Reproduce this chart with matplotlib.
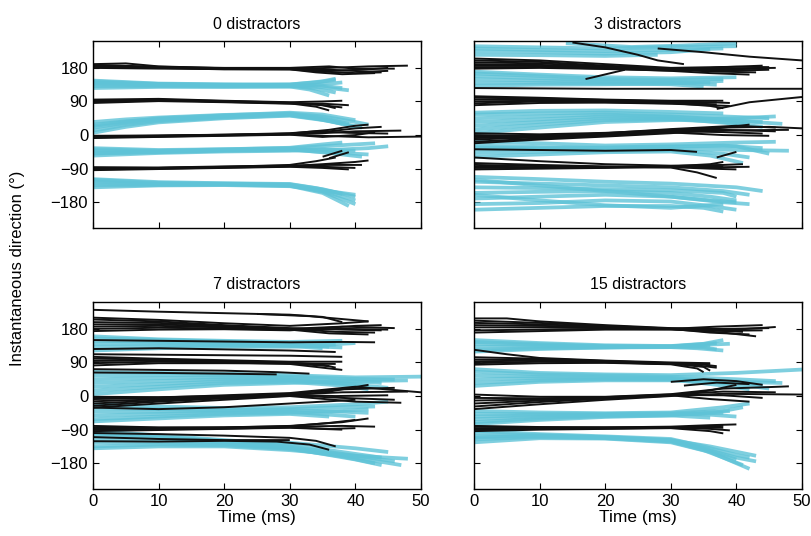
import matplotlib
matplotlib.use('Agg')
import matplotlib.pyplot as plt

plt.rcParams.update({
    'font.family': ['Liberation Sans', 'DejaVu Sans'],
    'font.size': 12,
    'axes.linewidth': 1.0,
})

titles = ["0 distractors", "3 distractors", "7 distractors", "15 distractors"]
x_ticks = [0, 10, 20, 30, 40, 50]
y_ticks = [-180, -90, 0, 90, 180]

# each trace: list of (time ms, direction deg)

# ---- 0 distractors
p0_cyan = [
    [(0, 146), (5, 142), (10, 138), (20, 136), (30, 136), (34, 141), (37, 148)],
    [(0, 141), (10, 136), (20, 134), (30, 134), (34, 134), (38, 126)],
    [(0, 136), (10, 133), (20, 132), (30, 132), (34, 124), (37, 114)],
    [(0, 131), (10, 131), (20, 130), (30, 130), (33, 122), (36, 106)],
    [(0, 126), (10, 129), (20, 129), (30, 130), (35, 136), (38, 141)],
    [(0, 144), (10, 137), (20, 135), (30, 133), (35, 128), (39, 120)],
    [(0, 139), (10, 135), (20, 133), (30, 135), (35, 144), (37, 151)],
    [(0, 35), (5, 42), (10, 47), (20, 54), (30, 58), (35, 50), (40, 35), (42, 28)],
    [(0, 28), (5, 37), (10, 43), (20, 51), (30, 56), (35, 46), (39, 30)],
    [(0, 20), (5, 32), (10, 40), (20, 49), (30, 55), (35, 42), (40, 22)],
    [(0, 12), (5, 27), (10, 37), (20, 47), (30, 53), (34, 44), (38, 30)],
    [(0, 6), (5, 22), (10, 34), (20, 45), (30, 52), (36, 38), (41, 20)],
    [(0, 24), (5, 35), (10, 45), (20, 53), (30, 60), (35, 55), (40, 40)],
    [(0, -35), (10, -40), (20, -38), (30, -35), (35, -30), (40, -25), (43, -22)],
    [(0, -42), (10, -44), (20, -40), (30, -38), (36, -40), (42, -35), (45, -30)],
    [(0, -48), (10, -46), (20, -42), (30, -40), (35, -45), (40, -50), (42, -52)],
    [(0, -55), (10, -48), (20, -44), (30, -42), (35, -38), (40, -42)],
    [(0, -38), (10, -42), (20, -38), (30, -34), (35, -25), (38, -20)],
    [(0, -50), (10, -45), (20, -41), (30, -38), (36, -48), (41, -58)],
    [(0, -120), (10, -128), (20, -130), (30, -132), (35, -145), (40, -165)],
    [(0, -125), (10, -130), (20, -131), (30, -134), (35, -150), (40, -175)],
    [(0, -130), (10, -132), (20, -132), (30, -135), (35, -152), (40, -185)],
    [(0, -135), (10, -134), (20, -133), (30, -136), (35, -155), (39, -190)],
    [(0, -140), (10, -135), (20, -134), (30, -137), (35, -148), (40, -160)],
    [(0, -118), (10, -126), (20, -129), (30, -131), (34, -142), (38, -158)],
]
p0_black = [
    [(0, 190), (5, 192), (10, 184), (20, 179), (30, 178), (36, 175), (42, 170), (45, 172)],
    [(0, 186), (10, 182), (20, 178), (30, 177), (36, 180), (42, 184), (48, 186)],
    [(0, 182), (10, 180), (20, 176), (30, 176), (35, 170), (40, 166), (44, 168)],
    [(0, 188), (10, 183), (20, 180), (30, 180), (36, 184), (40, 178), (46, 178)],
    [(0, 184), (10, 181), (20, 177), (30, 179), (36, 172), (42, 176), (45, 180)],
    [(0, 180), (10, 178), (20, 177), (30, 176), (34, 168), (38, 163), (43, 166)],
    [(0, 92), (10, 95), (20, 91), (30, 87), (34, 82), (38, 74)],
    [(0, 88), (10, 93), (20, 90), (30, 86), (35, 80), (37, 72)],
    [(0, 95), (10, 97), (20, 92), (30, 88), (35, 90), (38, 92)],
    [(0, 90), (10, 94), (20, 89), (30, 85), (34, 76), (36, 66)],
    [(0, 86), (10, 91), (20, 88), (30, 84), (35, 84), (39, 80)],
    [(0, -5), (10, -3), (20, 0), (30, 2), (35, 8), (40, 18), (44, 22)],
    [(0, -2), (10, -1), (20, 1), (30, 3), (35, 5), (40, 10), (47, 12)],
    [(0, -8), (10, -5), (20, -2), (30, 1), (35, -5), (40, 0), (43, 8)],
    [(0, -4), (10, -2), (20, 0), (30, 4), (36, 14), (40, 25), (42, 28)],
    [(0, -6), (10, -4), (20, -1), (30, 2), (35, -2), (42, -6), (50, -4)],
    [(0, -3), (10, -2), (20, 1), (30, 5), (34, 10), (39, 6), (45, 4)],
    [(35, -58), (38, -42)],
    [(36, -62), (39, -46)],
    [(0, -88), (10, -88), (20, -86), (30, -83), (35, -78), (40, -72), (42, -68)],
    [(0, -92), (10, -90), (20, -87), (30, -84), (35, -85), (40, -88)],
    [(0, -90), (10, -88), (20, -85), (30, -80), (34, -70), (37, -60)],
    [(0, -86), (10, -87), (20, -84), (30, -82), (36, -80), (41, -80)],
    [(0, -94), (10, -91), (20, -88), (30, -85), (35, -88), (39, -92)],
]

# ---- 3 distractors
p1_cyan = [
    [(0, 232), (10, 228), (20, 225), (30, 228), (38, 232)],
    [(0, 225), (10, 222), (20, 218), (30, 222), (36, 230)],
    [(0, 215), (10, 214), (20, 212), (28, 215)],
    [(0, 238), (10, 235), (20, 232), (30, 236), (40, 238)],
    [(14, 246), (24, 236), (32, 240), (40, 246)],
    [(0, 165), (10, 158), (20, 150), (30, 148), (38, 150)],
    [(0, 158), (10, 152), (20, 146), (30, 144), (36, 140)],
    [(0, 150), (10, 146), (20, 142), (30, 140), (37, 135)],
    [(0, 140), (10, 140), (20, 138), (30, 136), (35, 130)],
    [(0, 132), (10, 135), (20, 136), (30, 138), (38, 145)],
    [(0, 170), (10, 162), (20, 155), (30, 152), (40, 155)],
    [(0, 55), (10, 58), (20, 60), (30, 55), (38, 50), (45, 45)],
    [(0, 45), (10, 50), (20, 55), (30, 50), (38, 42), (44, 35)],
    [(0, 35), (10, 42), (20, 50), (30, 48), (40, 38), (47, 30)],
    [(0, 25), (10, 35), (20, 45), (30, 45), (40, 30), (44, 22)],
    [(0, 15), (10, 28), (20, 40), (30, 42), (38, 35), (42, 28)],
    [(0, 5), (10, 20), (20, 35), (30, 40), (40, 45), (46, 50)],
    [(0, 60), (10, 65), (20, 66), (30, 62), (38, 58)],
    [(0, -18), (10, -22), (20, -28), (30, -25), (40, -20), (46, -18)],
    [(0, -28), (10, -32), (20, -35), (30, -32), (38, -28), (44, -35)],
    [(0, -38), (10, -38), (20, -38), (30, -36), (40, -40), (48, -42)],
    [(0, -48), (10, -45), (20, -42), (30, -40), (38, -50), (42, -60)],
    [(0, -58), (10, -52), (20, -46), (30, -44), (36, -55), (41, -75)],
    [(0, -33), (10, -35), (20, -33), (30, -30), (40, -30), (45, -50)],
    [(0, -112), (10, -118), (20, -125), (30, -130), (40, -140), (44, -150)],
    [(0, -125), (10, -130), (20, -135), (30, -140), (38, -150), (42, -160)],
    [(0, -140), (10, -142), (20, -145), (30, -148), (38, -155), (40, -165)],
    [(0, -155), (10, -152), (20, -150), (30, -155), (36, -165), (40, -175)],
    [(0, -170), (10, -165), (20, -160), (30, -165), (38, -180), (42, -185)],
    [(0, -185), (10, -182), (20, -175), (30, -178), (36, -190), (40, -200)],
    [(0, -200), (10, -195), (20, -190), (30, -190), (35, -195), (38, -205)],
    [(0, -160), (10, -175), (20, -188), (30, -195), (38, -185)],
    [(0, -120), (10, -135), (20, -150), (30, -165), (36, -175), (40, -180)],
]
p1_black = [
    [(0, 200), (10, 196), (20, 186), (30, 178), (38, 176), (44, 178)],
    [(0, 195), (10, 192), (20, 184), (30, 176), (38, 172), (45, 175)],
    [(0, 190), (10, 188), (20, 182), (30, 175), (37, 170), (43, 168)],
    [(0, 186), (10, 185), (20, 180), (30, 174), (38, 178), (46, 180)],
    [(0, 182), (10, 182), (20, 178), (30, 172), (36, 166), (42, 162)],
    [(0, 178), (10, 180), (20, 177), (30, 173), (38, 182), (44, 186)],
    [(0, 205), (10, 200), (20, 190), (30, 180), (40, 183), (45, 182)],
    [(15, 248), (20, 235), (25, 215), (28, 200), (32, 190)],
    [(28, 232), (35, 222), (42, 210), (50, 200)],
    [(17, 150), (23, 175)],
    [(0, 126), (20, 124), (40, 124), (50, 124)],
    [(37, 70), (42, 88), (50, 102)],
    [(0, 100), (10, 98), (20, 94), (30, 90), (36, 88), (39, 86)],
    [(0, 95), (10, 95), (20, 92), (30, 88), (37, 82)],
    [(0, 90), (10, 92), (20, 90), (30, 86), (36, 78), (38, 72)],
    [(0, 85), (10, 90), (20, 88), (30, 85), (37, 88)],
    [(0, 80), (10, 86), (20, 87), (30, 84), (36, 80), (39, 78)],
    [(0, 104), (10, 100), (20, 95), (30, 92), (38, 92)],
    [(0, 5), (10, 2), (20, 6), (30, 14), (38, 20), (45, 22), (50, 18)],
    [(0, 0), (10, -2), (20, 4), (30, 12), (38, 14), (46, 10)],
    [(0, -8), (10, -5), (20, 2), (30, 10), (38, 8), (44, 4)],
    [(0, -12), (10, -6), (20, 0), (30, 9), (37, 18), (42, 28)],
    [(0, -18), (10, -9), (20, -2), (30, 7), (38, 0), (45, -2)],
    [(0, -22), (10, -12), (20, -4), (30, 5), (36, 12), (48, 14)],
    [(0, -4), (10, -3), (20, 5), (30, 16), (40, 25), (46, 20)],
    [(0, -38), (10, -40), (20, -42), (30, -40), (34, -45)],
    [(37, -60), (40, -45)],
    [(0, -60), (10, -70), (20, -78), (30, -82), (38, -80), (41, -78)],
    [(0, -75), (10, -80), (20, -84), (30, -85), (38, -86), (42, -85)],
    [(0, -85), (10, -86), (20, -87), (30, -86), (36, -90), (40, -92)],
    [(0, -92), (10, -90), (20, -88), (30, -84), (36, -78), (38, -72)],
    [(0, -80), (10, -83), (20, -85), (30, -87), (34, -100), (37, -115)],
    [(0, -88), (10, -88), (20, -86), (30, -83), (38, -84)],
]

# ---- 7 distractors
p2_cyan = [
    [(0, 155), (10, 150), (20, 146), (30, 140), (36, 138), (40, 142)],
    [(0, 148), (10, 145), (20, 142), (30, 138), (36, 132)],
    [(0, 140), (10, 140), (20, 138), (30, 136), (38, 130)],
    [(0, 132), (10, 134), (20, 135), (30, 134), (35, 128)],
    [(0, 122), (10, 128), (20, 132), (30, 132), (37, 138)],
    [(0, 160), (10, 152), (20, 148), (30, 145), (38, 148)],
    [(0, 65), (10, 62), (20, 60), (30, 56), (40, 50), (50, 52)],
    [(0, 55), (10, 56), (20, 55), (30, 52), (40, 46), (46, 44)],
    [(0, 45), (10, 48), (20, 50), (30, 48), (40, 40), (44, 35)],
    [(0, 35), (10, 40), (20, 45), (30, 44), (38, 35), (42, 28)],
    [(0, 25), (10, 32), (20, 40), (30, 42), (40, 30), (45, 22)],
    [(0, 15), (10, 25), (20, 35), (30, 38), (38, 28), (42, 18)],
    [(0, 5), (10, 18), (20, 30), (30, 35), (40, 40), (48, 42)],
    [(0, -22), (10, -28), (20, -32), (30, -30), (40, -22), (45, -15)],
    [(0, -32), (10, -35), (20, -38), (30, -35), (38, -30), (43, -28)],
    [(0, -42), (10, -42), (20, -40), (30, -38), (38, -42), (42, -45)],
    [(0, -52), (10, -48), (20, -44), (30, -42), (36, -50), (40, -55)],
    [(0, -62), (10, -55), (20, -48), (30, -45), (38, -40), (42, -35)],
    [(0, -68), (10, -60), (20, -52), (30, -48), (36, -55)],
    [(0, -94), (10, -105), (20, -118), (30, -130), (38, -150), (44, -165)],
    [(0, -105), (10, -112), (20, -122), (30, -135), (38, -155), (46, -175)],
    [(0, -115), (10, -118), (20, -125), (30, -138), (40, -165), (47, -185)],
    [(0, -125), (10, -125), (20, -128), (30, -140), (40, -170), (44, -185)],
    [(0, -135), (10, -130), (20, -132), (30, -142), (38, -162), (43, -180)],
    [(0, -140), (10, -135), (20, -135), (30, -145), (40, -160), (48, -168)],
    [(0, -100), (10, -110), (20, -120), (30, -125), (40, -140), (45, -150)],
]
p2_black = [
    [(0, 231), (10, 226), (20, 222), (30, 218), (35, 212), (38, 198)],
    [(25, 220), (33, 214), (42, 200)],
    [(0, 205), (10, 200), (20, 190), (30, 182), (38, 178), (44, 176)],
    [(0, 198), (10, 196), (20, 188), (30, 180), (37, 172), (43, 170)],
    [(0, 192), (10, 192), (20, 186), (30, 180), (38, 186), (46, 182)],
    [(0, 186), (10, 188), (20, 184), (30, 178), (36, 168), (42, 165)],
    [(0, 180), (10, 183), (20, 181), (30, 177), (38, 180), (45, 178)],
    [(0, 174), (10, 178), (20, 179), (30, 176), (40, 188), (44, 190)],
    [(0, 210), (10, 204), (20, 195), (30, 188), (38, 195), (42, 200)],
    [(0, 150), (10, 148), (20, 146), (30, 144), (38, 145), (43, 144)],
    [(0, 126), (10, 128), (20, 125), (30, 122), (37, 118)],
    [(0, 112), (15, 110), (30, 108), (38, 105)],
    [(0, 100), (10, 98), (20, 94), (30, 90), (35, 84), (37, 76)],
    [(0, 94), (10, 95), (20, 92), (30, 88), (36, 80)],
    [(0, 88), (10, 92), (20, 90), (30, 86), (35, 76), (38, 70)],
    [(0, 82), (10, 88), (20, 88), (30, 87), (37, 86)],
    [(0, 105), (10, 100), (20, 96), (30, 92), (38, 92)],
    [(0, 63), (10, 62), (20, 60), (28, 58)],
    [(0, 72), (10, 70), (20, 68), (28, 64), (33, 60)],
    [(0, -2), (10, -3), (20, 0), (30, 6), (38, 18), (46, 22)],
    [(0, -8), (10, -6), (20, -2), (30, 4), (38, 10), (48, 12)],
    [(0, -14), (10, -9), (20, -4), (30, 3), (37, 0), (45, 2)],
    [(0, -20), (10, -12), (20, -5), (30, 2), (38, -5), (46, -10)],
    [(0, -26), (10, -15), (20, -6), (30, 1), (36, 12), (42, 30)],
    [(0, -31), (10, -20), (20, -10), (30, 0), (40, -15), (47, -18)],
    [(0, -5), (10, -4), (20, 2), (30, 8), (40, 25), (50, 10)],
    [(0, -31), (10, -35), (20, -30), (30, -20), (40, -10)],
    [(0, -84), (10, -85), (20, -84), (30, -80), (38, -70), (42, -60)],
    [(0, -88), (10, -87), (20, -85), (30, -82), (38, -80), (43, -82)],
    [(0, -90), (10, -89), (20, -87), (30, -84), (36, -88), (40, -86)],
    [(0, -80), (10, -84), (20, -84), (30, -81), (36, -72), (40, -64)],
    [(0, -94), (10, -91), (20, -88), (30, -85), (38, -90)],
    [(0, -99), (10, -102), (20, -106), (30, -112), (34, -120), (37, -135)],
    [(0, -121), (10, -122), (20, -120), (28, -122), (33, -130), (36, -144)],
    [(0, -110), (10, -115), (20, -118), (30, -118)],
]

# ---- 15 distractors
p3_cyan = [
    [(0, 150), (10, 142), (20, 136), (30, 134), (35, 140), (38, 150)],
    [(0, 145), (10, 139), (20, 134), (30, 133), (36, 138), (39, 140)],
    [(0, 140), (10, 136), (20, 133), (30, 132), (35, 130), (37, 125)],
    [(0, 132), (10, 132), (20, 131), (30, 132), (36, 135)],
    [(0, 124), (10, 128), (20, 130), (30, 131), (34, 128), (38, 122)],
    [(0, 119), (10, 126), (20, 130), (30, 133), (37, 142)],
    [(0, 72), (10, 62), (20, 58), (30, 56), (40, 62), (50, 71)],
    [(0, 65), (10, 58), (20, 55), (30, 52), (40, 45), (46, 40)],
    [(0, 55), (10, 52), (20, 50), (30, 48), (38, 40), (44, 30)],
    [(0, 45), (10, 48), (20, 47), (30, 46), (40, 32), (45, 20)],
    [(0, 35), (10, 42), (20, 45), (30, 44), (38, 28), (42, 18)],
    [(0, 27), (10, 38), (20, 42), (30, 42), (40, 38), (47, 35)],
    [(0, -40), (10, -44), (20, -46), (30, -44), (38, -30), (42, -20)],
    [(0, -48), (10, -48), (20, -48), (30, -46), (38, -40), (41, -30)],
    [(0, -55), (10, -52), (20, -50), (30, -48), (36, -50), (40, -55)],
    [(0, -62), (10, -56), (20, -52), (30, -50), (38, -45)],
    [(0, -70), (10, -60), (20, -54), (30, -52), (36, -58)],
    [(0, -75), (10, -64), (20, -56), (30, -52), (39, -40)],
    [(0, -93), (10, -102), (20, -108), (30, -115), (35, -135), (40, -158), (42, -165)],
    [(0, -100), (10, -105), (20, -110), (30, -118), (35, -140), (40, -165), (43, -175)],
    [(0, -108), (10, -108), (20, -112), (30, -120), (35, -142), (40, -170)],
    [(0, -116), (10, -110), (20, -113), (30, -122), (35, -145), (41, -185)],
    [(0, -124), (10, -113), (20, -114), (30, -124), (36, -150), (42, -195)],
    [(0, -112), (10, -106), (20, -110), (30, -118), (36, -135), (43, -160)],
]
p3_black = [
    [(0, 208), (5, 208), (10, 200), (20, 190), (30, 182), (38, 180), (45, 182)],
    [(0, 202), (10, 196), (20, 188), (30, 181), (38, 175), (44, 176)],
    [(0, 196), (10, 192), (20, 186), (30, 180), (36, 170), (42, 165)],
    [(0, 190), (10, 188), (20, 185), (30, 180), (40, 178), (46, 185)],
    [(0, 184), (10, 184), (20, 182), (30, 180), (37, 186), (44, 190)],
    [(0, 176), (10, 178), (20, 180), (30, 179), (38, 170), (43, 160)],
    [(0, 170), (10, 174), (20, 178), (30, 178), (36, 176), (41, 172)],
    [(0, 104), (10, 100), (20, 94), (30, 88), (34, 82), (37, 76)],
    [(0, 98), (10, 97), (20, 92), (30, 87), (35, 78), (36, 68)],
    [(0, 93), (10, 95), (20, 91), (30, 86), (35, 84), (37, 80)],
    [(0, 88), (10, 92), (20, 90), (30, 86), (36, 86)],
    [(0, 124), (5, 112), (10, 102), (20, 95), (30, 90), (36, 88)],
    [(0, 84), (10, 88), (20, 89), (30, 85), (34, 74), (35, 64)],
    [(0, 4), (10, -2), (20, -2), (30, 5), (38, 20), (45, 24), (48, 26)],
    [(0, -5), (10, -6), (20, -3), (30, 4), (38, 12), (46, 10)],
    [(0, -12), (10, -9), (20, -4), (30, 3), (38, 2), (44, -5)],
    [(0, -20), (10, -12), (20, -5), (30, 2), (36, -8), (42, -15)],
    [(0, -28), (10, -16), (20, -7), (30, 1), (38, 6), (50, 4)],
    [(0, -35), (10, -22), (20, -10), (30, 0), (36, 15), (40, 30)],
    [(30, 38), (35, 45), (40, 40), (44, 30)],
    [(32, 28), (37, 36), (42, 32)],
    [(0, -82), (10, -84), (20, -84), (30, -82), (36, -78), (40, -76)],
    [(0, -86), (10, -86), (20, -85), (30, -84), (36, -88), (39, -92)],
    [(0, -90), (10, -88), (20, -87), (30, -85), (35, -82), (38, -80)],
    [(0, -94), (10, -90), (20, -88), (30, -86), (36, -94), (38, -100)],
    [(0, -80), (10, -83), (20, -84), (30, -84), (38, -85)],
]

cyan_traces = [p0_cyan, p1_cyan, p2_cyan, p3_cyan]
black_traces = [p0_black, p1_black, p2_black, p3_black]

cyan = '#5fc3d7'
black = '#111111'

fig = plt.figure(figsize=(8.11, 5.36), dpi=100)
positions = [
    [0.1147, 0.5746, 0.4044, 0.3489],
    [0.5845, 0.5746, 0.4044, 0.3489],
    [0.1147, 0.0877, 0.4044, 0.3489],
    [0.5845, 0.0877, 0.4044, 0.3489],
]

for i in range(4):
    ax = fig.add_axes(positions[i])
    for tr in cyan_traces[i]:
        ax.plot([p[0] for p in tr], [p[1] for p in tr], color=cyan,
                lw=2.7, alpha=0.8, solid_capstyle='butt',
                solid_joinstyle='round')
    for tr in black_traces[i]:
        ax.plot([p[0] for p in tr], [p[1] for p in tr], color=black,
                lw=1.4, solid_capstyle='butt', solid_joinstyle='round')
    ax.set_xlim(0, 50)
    ax.set_ylim(-249, 252)
    ax.set_xticks(x_ticks)
    ax.set_yticks(y_ticks)
    ax.tick_params(direction='in', top=True, right=True, length=4,
                   width=0.8, labelsize=12)
    if i % 2 == 1:
        ax.set_yticklabels([])
    if i < 2:
        ax.set_xticklabels([])
    else:
        ax.set_xlabel('Time (ms)', fontsize=12.5, labelpad=1)
    ax.set_title(titles[i], fontsize=11.5, pad=9)

fig.text(0.022, 0.5, 'Instantaneous direction (°)', rotation=90,
         ha='center', va='center', fontsize=12)

plt.savefig('out.png', dpi=100)
plt.close()
